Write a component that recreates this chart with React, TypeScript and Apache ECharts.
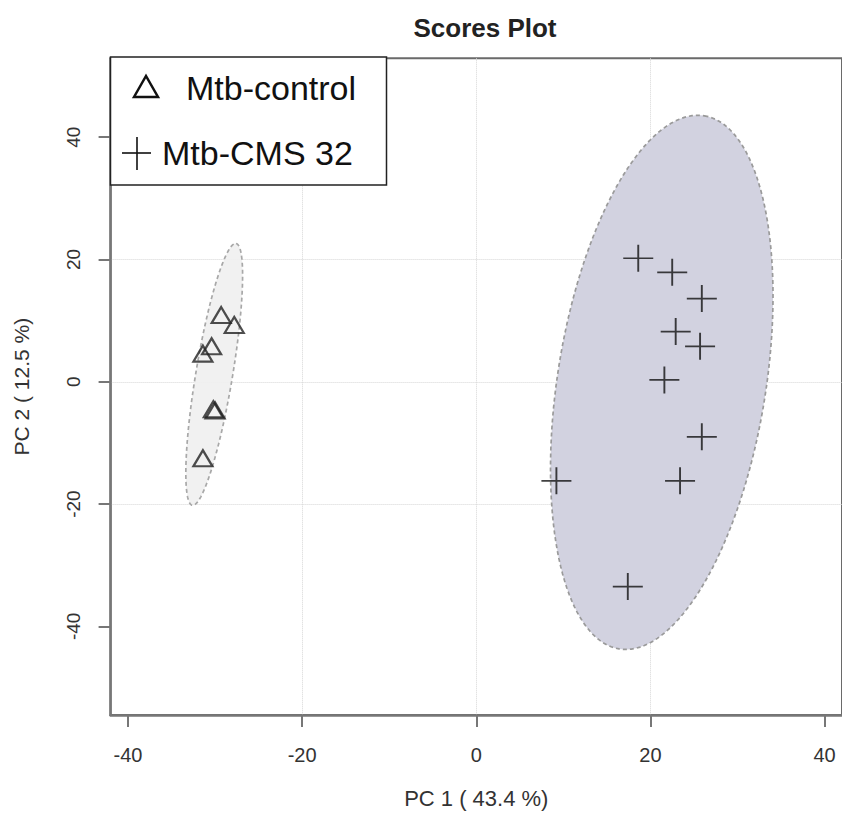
import React, { useEffect, useRef } from "react";
import * as echarts from "echarts";

// ---- data ----
const xTicks = [-40, -20, 0, 20, 40];
const yTicks = [-40, -20, 0, 20, 40];

const controlX = [-29.3, -27.8, -30.4, -31.4, -30.2, -30.0, -31.4];
const controlY = [10.9, 9.3, 5.8, 4.6, -4.5, -4.7, -12.5];

const cmsX = [18.6, 22.5, 25.9, 22.9, 25.7, 21.6, 25.9, 9.2, 23.4, 17.4];
const cmsY = [20.2, 17.9, 13.6, 8.2, 5.8, 0.3, -9.0, -16.2, -16.2, -33.5];

// confidence ellipses: centre, major semi-axis vector, minor semi-axis vector (data units)
const ellipseGroups = ["Mtb-control", "Mtb-CMS 32"];
const ellipseCenterX = [-30.1, 21.3];
const ellipseCenterY = [1.2, -0.1];
const majorAxisX = [2.51, 4.9];
const majorAxisY = [21.41, 43.59];
const minorAxisX = [2.08, 11.8];
const minorAxisY = [-0.5, -2.8];

const FONT = "'Liberation Sans', Arial, Helvetica, sans-serif";

export default function App() {
  const ref = useRef<HTMLDivElement>(null);

  useEffect(() => {
    document.body.style.margin = "0";
    if (!ref.current) return;
    const chart = echarts.init(ref.current, undefined, { renderer: "svg" });

    const ellipseFill = ["rgba(240,240,240,0.9)", "#d2d2e0"];
    const ellipseStroke = ["#a8a8a8", "#9a9a9a"];

    const ellipseData = ellipseGroups.map((_, i) => [
      ellipseCenterX[i],
      ellipseCenterY[i],
      majorAxisX[i],
      majorAxisY[i],
      minorAxisX[i],
      minorAxisY[i],
    ]);

    const option: any = {
      animation: false,
      backgroundColor: "#fff",
      title: {
        text: "Scores Plot",
        left: 480,
        top: 10,
        textAlign: "center",
        textStyle: { fontFamily: FONT, fontSize: 26, fontWeight: "bold", color: "#222" },
      },
      grid: {
        left: 110.6,
        top: 58.3,
        width: 734.2,
        height: 666.2,
        show: true,
        borderColor: "#6a6a6a",
        borderWidth: 2,
        backgroundColor: "transparent",
      },
      xAxis: {
        type: "value",
        min: -42,
        max: 42,
        name: "PC 1 ( 43.4 %)",
        nameLocation: "middle",
        nameGap: 72,
        nameTextStyle: { fontFamily: FONT, fontSize: 22, color: "#333" },
        axisLine: { show: true, onZero: false, lineStyle: { color: "#777", width: 2.5 } },
        axisTick: { show: true, length: 12, customValues: xTicks, lineStyle: { color: "#777", width: 2 } },
        axisLabel: { customValues: xTicks, margin: 30, fontFamily: FONT, fontSize: 20, color: "#333" },
        splitLine: {
          show: true,
          showMinLine: false,
          showMaxLine: false,
          lineStyle: { type: "dotted", color: "#d6d6d6", width: 1 },
        },
      },
      yAxis: {
        type: "value",
        min: -54.5,
        max: 52.9,
        name: "PC 2 ( 12.5 %)",
        nameLocation: "middle",
        nameGap: 79,
        nameTextStyle: { fontFamily: FONT, fontSize: 21, color: "#333" },
        axisLine: { show: true, onZero: false, lineStyle: { color: "#777", width: 2.5 } },
        axisTick: { show: true, length: 12, customValues: yTicks, lineStyle: { color: "#777", width: 2 } },
        axisLabel: { customValues: yTicks, rotate: 90, margin: 28, fontFamily: FONT, fontSize: 19, color: "#333" },
        splitLine: {
          show: true,
          showMinLine: false,
          showMaxLine: false,
          lineStyle: { type: "dotted", color: "#d6d6d6", width: 1 },
        },
      },
      series: [
        {
          type: "custom",
          name: "ellipses",
          z: 1,
          silent: true,
          data: ellipseData,
          renderItem: (params: any, api: any) => {
            const cx = api.value(0);
            const cy = api.value(1);
            const ux = api.value(2);
            const uy = api.value(3);
            const vx = api.value(4);
            const vy = api.value(5);
            const pts: number[][] = [];
            const n = 160;
            for (let k = 0; k < n; k++) {
              const t = (k / n) * Math.PI * 2;
              pts.push(
                api.coord([
                  cx + ux * Math.cos(t) + vx * Math.sin(t),
                  cy + uy * Math.cos(t) + vy * Math.sin(t),
                ])
              );
            }
            const idx = params.dataIndex;
            return {
              type: "polygon",
              shape: { points: pts },
              style: {
                fill: ellipseFill[idx],
                stroke: ellipseStroke[idx],
                lineWidth: 1.7,
                lineDash: [4, 3],
              },
            };
          },
        },
        {
          type: "scatter",
          name: "Mtb-control",
          z: 3,
          symbol: "triangle",
          symbolSize: [19, 16],
          itemStyle: { color: "rgba(0,0,0,0)", borderColor: "#222", borderWidth: 2.2 },
          data: controlX.map((x, i) => [x, controlY[i]]),
        },
        {
          type: "scatter",
          name: "Mtb-CMS 32",
          z: 3,
          symbol: "path://M0,10L20,10M10,0L10,20",
          symbolSize: [30, 27],
          itemStyle: { color: "rgba(0,0,0,0)", borderColor: "#111", borderWidth: 1.8 },
          data: cmsX.map((x, i) => [x, cmsY[i]]),
        },
      ],
      graphic: [
        {
          type: "rect",
          z: 100,
          shape: { x: 110.5, y: 57, width: 276, height: 128 },
          style: { fill: "#fff", stroke: "#222", lineWidth: 1.5 },
        },
        {
          type: "polygon",
          z: 101,
          shape: { points: [[134, 97], [146, 76], [158, 97]] },
          style: { fill: "none", stroke: "#111", lineWidth: 2.5 },
        },
        {
          type: "text",
          z: 101,
          x: 186,
          y: 88,
          style: {
            text: "Mtb-control",
            fontFamily: FONT,
            fontSize: 34,
            fill: "#111",
            verticalAlign: "middle",
            align: "left",
          },
        },
        {
          type: "line",
          z: 101,
          shape: { x1: 122, y1: 153, x2: 151, y2: 153 },
          style: { stroke: "#111", lineWidth: 1.6 },
        },
        {
          type: "line",
          z: 101,
          shape: { x1: 137, y1: 137, x2: 137, y2: 170 },
          style: { stroke: "#111", lineWidth: 1.6 },
        },
        {
          type: "text",
          z: 101,
          x: 162,
          y: 153,
          style: {
            text: "Mtb-CMS 32",
            fontFamily: FONT,
            fontSize: 34,
            fill: "#111",
            verticalAlign: "middle",
            align: "left",
          },
        },
      ],
    };

    chart.setOption(option);
    return () => {
      chart.dispose();
    };
  }, []);

  return <div ref={ref} style={{ width: 842, height: 814 }} />;
}
